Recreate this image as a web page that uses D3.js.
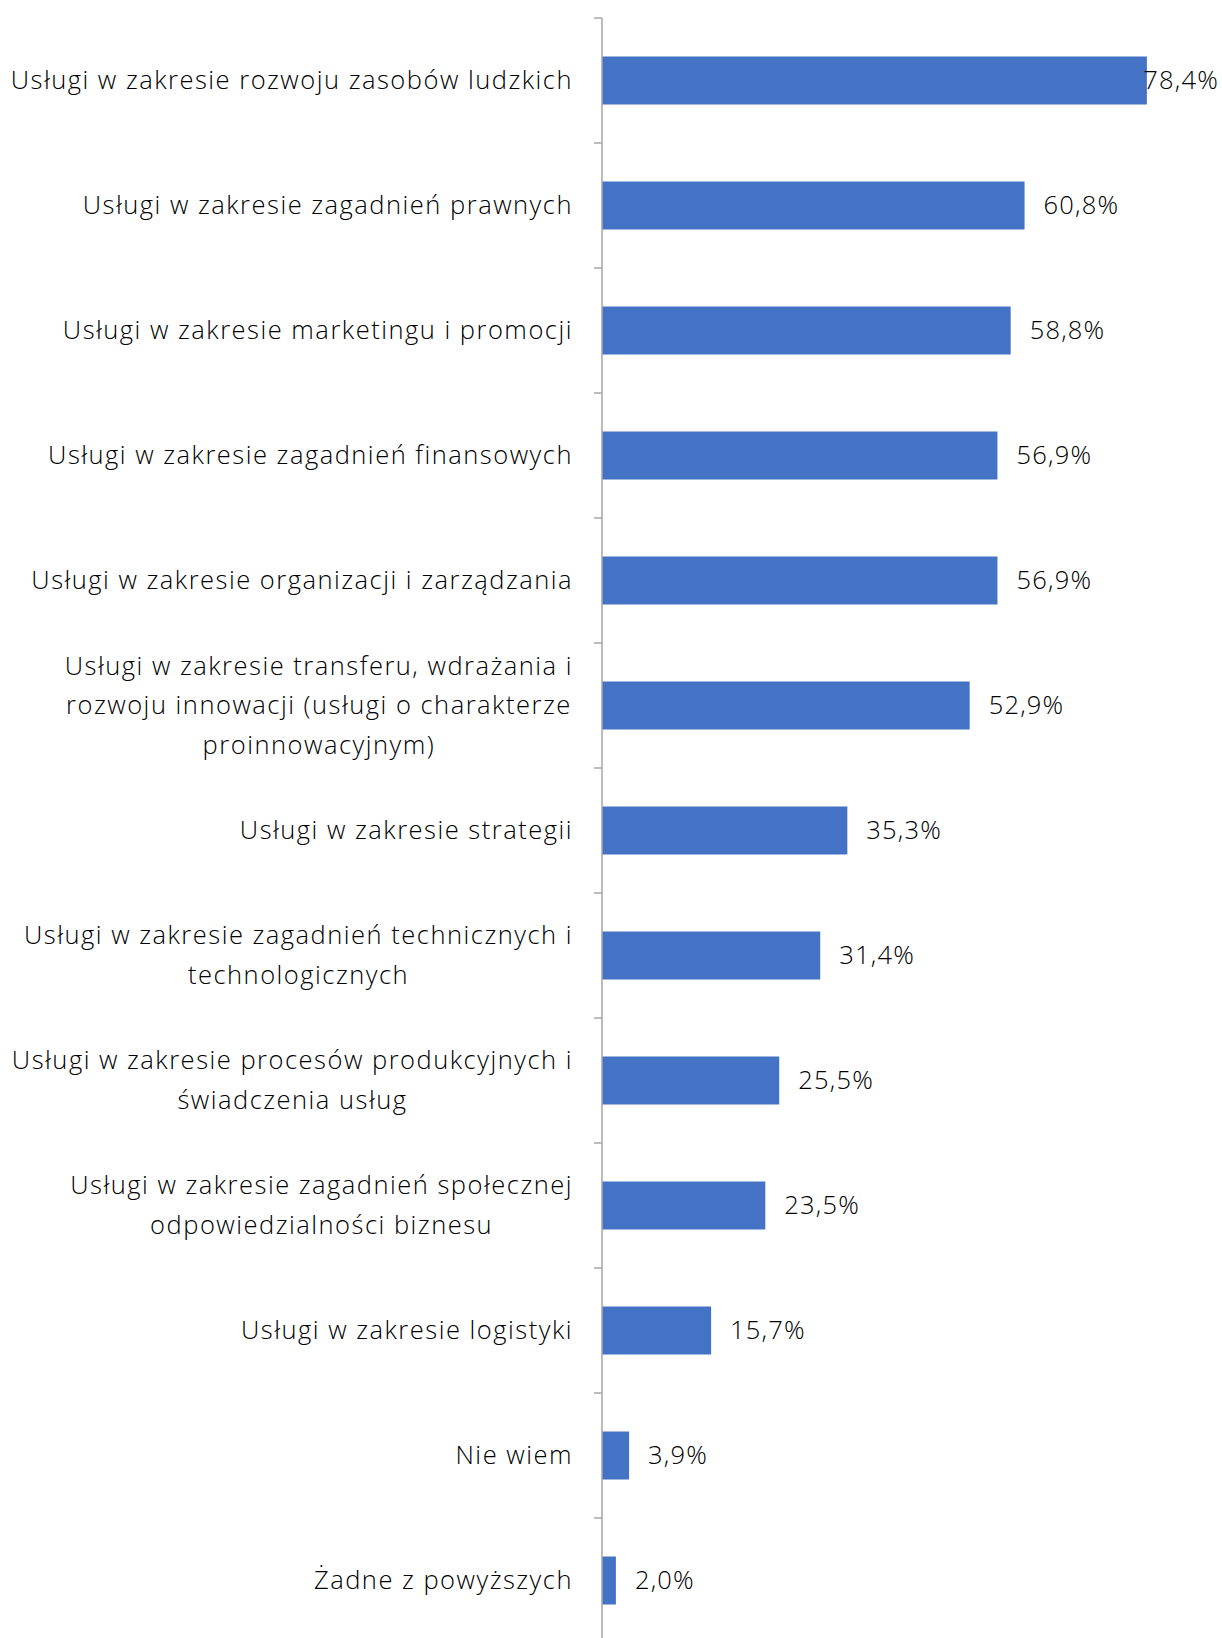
<!DOCTYPE html>
<html>
<head>
<meta charset="utf-8">
<script src="https://cdn.jsdelivr.net/npm/d3@7"></script>
<style>
  html, body { margin: 0; padding: 0; background: #fff; }
  svg { display: block; }
  text { font-family: "Open Sans", Lato, sans-serif; font-weight: 300; fill: #000; }
</style>
</head>
<body>
<svg id="chart" width="1222" height="1638"></svg>
<script>
// Category labels (lines as they wrap under each bar)
const categories = [
  ["Usługi w zakresie rozwoju zasobów ludzkich"],
  ["Usługi w zakresie zagadnień prawnych"],
  ["Usługi w zakresie marketingu i promocji"],
  ["Usługi w zakresie zagadnień finansowych"],
  ["Usługi w zakresie organizacji i zarządzania"],
  ["Usługi w zakresie transferu, wdrażania i", "rozwoju innowacji (usługi o charakterze", "proinnowacyjnym)"],
  ["Usługi w zakresie strategii"],
  ["Usługi w zakresie zagadnień technicznych i", "technologicznych"],
  ["Usługi w zakresie procesów produkcyjnych i", "świadczenia usług"],
  ["Usługi w zakresie zagadnień społecznej", "odpowiedzialności biznesu"],
  ["Usługi w zakresie logistyki"],
  ["Nie wiem"],
  ["Żadne z powyższych"]
];
// Share of responses, percent
const values = [78.4, 60.8, 58.8, 56.9, 56.9, 52.9, 35.3, 31.4, 25.5, 23.5, 15.7, 3.9, 2.0];
const xDomain = [0, 80];

const axisX = 602, plotTop = 18, plotBottom = 1643, plotRight = 1158;
const labelRightEdge = 573, labelMaxRight = 1219;
const fontSize = 25.5, lineHeight = 39.5, textShift = -1.5;
const catSpacing = 1.5, valSpacing = 1.2;

const svg = d3.select("#chart");

const x = d3.scaleLinear().domain(xDomain).range([axisX, plotRight]);
const y = d3.scaleBand().domain(d3.range(values.length)).range([plotTop, plotBottom]).paddingInner(0.616).paddingOuter(0.308);
const step = y.step();

// Bars
svg.append("g").selectAll("rect").data(values).join("rect")
  .attr("x", x(0))
  .attr("y", (d, i) => y(i))
  .attr("width", d => x(d) - x(0))
  .attr("height", y.bandwidth())
  .attr("fill", "#4472C4");

// Vertical category axis with tick marks at band boundaries
const axisG = svg.append("g");
axisG.append("line")
  .attr("x1", axisX).attr("x2", axisX)
  .attr("y1", plotTop).attr("y2", plotBottom)
  .attr("stroke", "#a6a6a6").attr("stroke-width", 1.5);
axisG.selectAll("line.tick").data(d3.range(values.length + 1)).join("line")
  .attr("class", "tick")
  .attr("x1", axisX - 8).attr("x2", axisX)
  .attr("y1", i => plotTop + i * step).attr("y2", i => plotTop + i * step)
  .attr("stroke", "#a6a6a6").attr("stroke-width", 1.5);

// Category labels: multi-line blocks centred within themselves, right-aligned to the axis
const labG = svg.append("g");
categories.forEach((lines, i) => {
  const cy = y(i) + y.bandwidth() / 2 + textShift;
  const g = labG.append("g");
  const texts = lines.map((ln, k) => g.append("text")
    .attr("font-size", fontSize)
    .attr("letter-spacing", catSpacing)
    .attr("text-anchor", "middle")
    .attr("dominant-baseline", "central")
    .attr("y", cy + (k - (lines.length - 1) / 2) * lineHeight)
    .text(ln));
  const maxW = d3.max(texts, t => t.node().getComputedTextLength());
  texts.forEach(t => t.attr("x", labelRightEdge - maxW / 2));
});

// Value labels
const fmt = v => v.toFixed(1).replace(".", ",") + "%";
svg.append("g").selectAll("text").data(values).join("text")
  .attr("font-size", fontSize)
  .attr("letter-spacing", valSpacing)
  .attr("dominant-baseline", "central")
  .attr("y", (d, i) => y(i) + y.bandwidth() / 2 + textShift)
  .text(fmt)
  .each(function (d) {
    const w = this.getComputedTextLength();
    d3.select(this).attr("x", Math.min(x(d) + 19, labelMaxRight - w));
  });
</script>
</body>
</html>
